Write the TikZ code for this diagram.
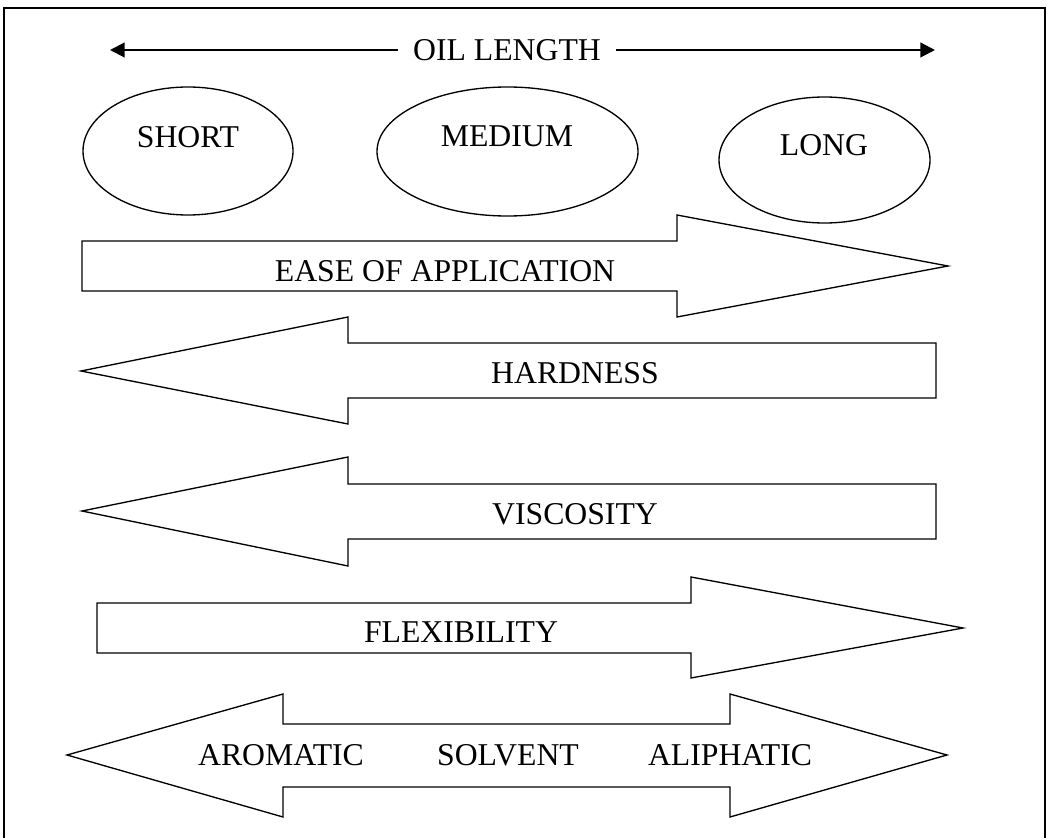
\documentclass[tikz,border=0pt]{standalone}
\usepackage{fontspec}
\setmainfont{Liberation Serif}
\usetikzlibrary{arrows.meta}
\usetikzlibrary{positioning}

\begin{document}
\begin{tikzpicture}[x=0.75pt, y=-0.75pt, line width=1pt,
	lbl/.style={inner sep=0pt, font=\fontsize{23.8}{28}\selectfont}]
	
	\useasboundingbox (0,0) rectangle (1049,838);
	
	%frame
	\draw (4,838) -- (4,8) -- (1045,8) -- (1045,838);
	
	%oil length scale
	\node[lbl, inner xsep=10.5pt] (oil) at (507,50) {OIL LENGTH};
	\coordinate (oilL) at (110,50);
	\coordinate (oilR) at (935,50);
	\draw[-{Triangle[length=11pt,width=11pt]}, line width=1.6pt] (oil.west) -- (oilL);
	\draw[-{Triangle[length=11pt,width=11pt]}, line width=1.6pt] (oil.east) -- (oilR);
	
	%ellipses
	\draw (188,151) ellipse [x radius=105, y radius=64];
	\draw (507.5,151.5) ellipse [x radius=130.5, y radius=64.5];
	\draw (824.5,160) ellipse [x radius=105.5, y radius=63];
	
	\node[lbl] (short) at (188,137) {SHORT};
	\node[lbl] (medium) at (507,136) {MEDIUM};
	\node[lbl] (long) at (824,145) {LONG};
	
	%big arrows
	\draw (82,241) -- (677,241) -- (677,215) -- (948,266) -- (677,317) -- (677,291) -- (82,291) -- cycle;
	\draw (936,343) -- (348,343) -- (348,317) -- (81,371) -- (348,424) -- (348,398) -- (936,398) -- cycle;
	\draw (936,484) -- (348,484) -- (348,457) -- (82,511) -- (348,566) -- (348,539) -- (936,539) -- cycle;
	\draw (97,603) -- (691,603) -- (691,577) -- (963,628) -- (691,678) -- (691,653) -- (97,653) -- cycle;
	\draw (67,755) -- (283,694) -- (283,724) -- (730,724) -- (730,694) -- (947,755)
		-- (730,817) -- (730,787) -- (283,787) -- (283,817) -- cycle;
	
	%labels
	\node[lbl] (ease) at (445,271) {EASE OF APPLICATION};
	\node[lbl] (hard) at (575,373) {HARDNESS};
	\node[lbl] (visc) at (575,514) {VISCOSITY};
	\node[lbl] (flex) at (461,632) {FLEXIBILITY};
	\node[lbl] (arom) at (281,755) {AROMATIC};
	\node[lbl] (solv) at (508,755) {SOLVENT};
	\node[lbl] (alip) at (730,755) {ALIPHATIC};
	
\end{tikzpicture}
\end{document}
